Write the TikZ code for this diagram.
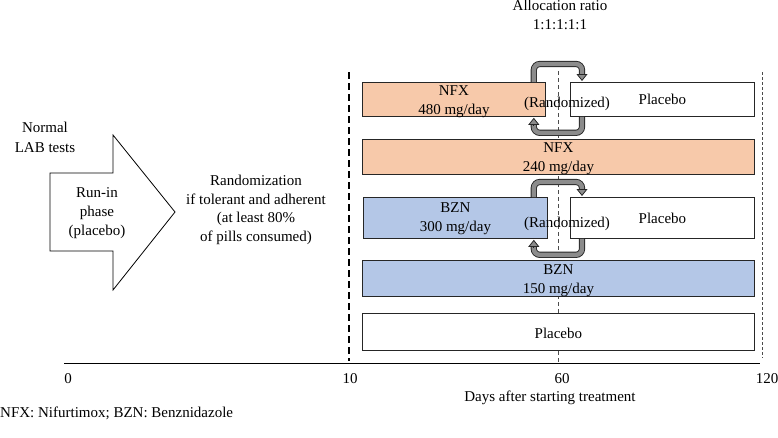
\documentclass[tikz,border=0pt]{standalone}
\usepackage{fontspec}
\setmainfont{Liberation Serif}
\usetikzlibrary{arrows.meta}
\definecolor{nfxc}{RGB}{247,201,170}
\definecolor{bznc}{RGB}{180,199,231}
\begin{document}
\begin{tikzpicture}[x=1pt,y=-1pt,
  font=\fontsize{15}{19}\selectfont,
  lbl/.style={align=center, inner sep=0pt},
  btxt/.style={align=center, inner sep=0pt, font=\fontsize{15}{19}\selectfont},
  box/.style={draw=black!85, line width=0.8pt, inner sep=0pt, anchor=north west},
  ushaft/.style={draw=black!85, line width=0.9pt, double=black!45,
    double distance=4.4pt, rounded corners=6pt},
  uhead/.style={draw=black!85, line width=0.8pt,
    -{Triangle[width=11pt,length=7pt,fill=black!45]}},
  dashA/.style={dash pattern=on 7pt off 4pt, line width=1.1pt, black},
  dashB/.style={dash pattern=on 4pt off 3pt, line width=0.8pt, black!70},
  dashC/.style={dash pattern=on 3pt off 2pt, line width=0.7pt, black!70}]
\useasboundingbox (0,0) rectangle (778,437);

% vertical reference lines and axis
\draw[dashA] (349,72) -- (349,361);
\draw[dashB] (558,71) -- (558,363);
\draw[dashC] (762,72) -- (762,358);
\draw[line width=1pt] (64,363) -- (760,363);

% run-in arrow
\draw[line width=0.8pt, line join=miter] (50,173) -- (113,173) -- (113,135) -- (175,212)
  -- (113,290) -- (113,251) -- (50,251) -- cycle;
\node[lbl] (runin) at (97,213) {Run-in\\phase\\(placebo)};
\node[lbl, font=\fontsize{15}{20}\selectfont] (normal) at (45,137) {Normal\\LAB tests};
\node[lbl, font=\fontsize{15}{18.7}\selectfont] (rand) at (256,210)
  {Randomization\\if tolerant and adherent\\(at least 80\%\\of pills consumed)};
\node[lbl] (alloc) at (560,15) {Allocation ratio\\1:1:1:1:1};

% treatment boxes
\node[box, fill=nfxc, minimum width=183pt, minimum height=34pt] (n480) at (362,82) {};
\node[box, fill=white, minimum width=184pt, minimum height=34pt] (p1) at (570,82) {};
\node[box, fill=nfxc, minimum width=392pt, minimum height=35pt] (n240) at (362,139) {};
\node[box, fill=bznc, minimum width=184pt, minimum height=41pt] (b300) at (363,197) {};
\node[box, fill=white, minimum width=184pt, minimum height=41pt] (p3) at (570,197) {};
\node[box, fill=bznc, minimum width=392pt, minimum height=36pt] (b150) at (362,260) {};
\node[box, fill=white, minimum width=392pt, minimum height=37pt] (p5) at (362,313) {};

\node[btxt] (n480t) at ([yshift=-2pt]n480.center) {NFX\\480 mg/day};
\node[btxt] (p1t) at (p1.center) {Placebo};
\node[btxt] (n240t) at ([yshift=-2pt]n240.center) {NFX\\240 mg/day};
\node[btxt] (b300t) at ([yshift=-1pt]b300.center) {BZN\\300 mg/day};
\node[btxt] (p3t) at (p3.center) {Placebo};
\node[btxt] (b150t) at ([yshift=-2pt]b150.center) {BZN\\150 mg/day};
\node[btxt] (p5t) at ([yshift=-1pt]p5.center) {Placebo};

% U-turn arrows, row 1
\draw[ushaft] ([xshift=-12pt]n480.north east) -- ++(0,-18) -| ([xshift=12pt,yshift=7pt]p1.north west);
\draw[uhead] ([xshift=12pt,yshift=8pt]p1.north west) -- ([xshift=12pt,yshift=1pt]p1.north west);
\draw[ushaft] ([xshift=12pt]p1.south west) -- ++(0,16) -| ([xshift=-12pt,yshift=-7pt]n480.south east);
\draw[uhead] ([xshift=-12pt,yshift=-8pt]n480.south east) -- ([xshift=-12pt,yshift=-1pt]n480.south east);
% U-turn arrows, row 3
\draw[ushaft] ([xshift=-14pt]b300.north east) -- ++(0,-15) -| ([xshift=12pt,yshift=7pt]p3.north west);
\draw[uhead] ([xshift=12pt,yshift=8pt]p3.north west) -- ([xshift=12pt,yshift=1pt]p3.north west);
\draw[ushaft] ([xshift=12pt]p3.south west) -- ++(0,16) -| ([xshift=-14pt,yshift=-7pt]b300.south east);
\draw[uhead] ([xshift=-14pt,yshift=-8pt]b300.south east) -- ([xshift=-14pt,yshift=-1pt]b300.south east);

\node[lbl] (r1) at (567,104) {(Randomized)};
\node[lbl] (r3) at (567,224) {(Randomized)};

% axis labels
\node[lbl] (t0) at (68,379) {0};
\node[lbl] (t10) at (350,379) {10};
\node[lbl] (t60) at (562,379) {60};
\node[lbl] (t120) at (767,379) {120};
\node[lbl] (days) at (550,398) {Days after starting treatment};
\node[lbl, anchor=west] (foot) at (0,413) {NFX: Nifurtimox; BZN: Benznidazole};
\end{tikzpicture}
\end{document}
